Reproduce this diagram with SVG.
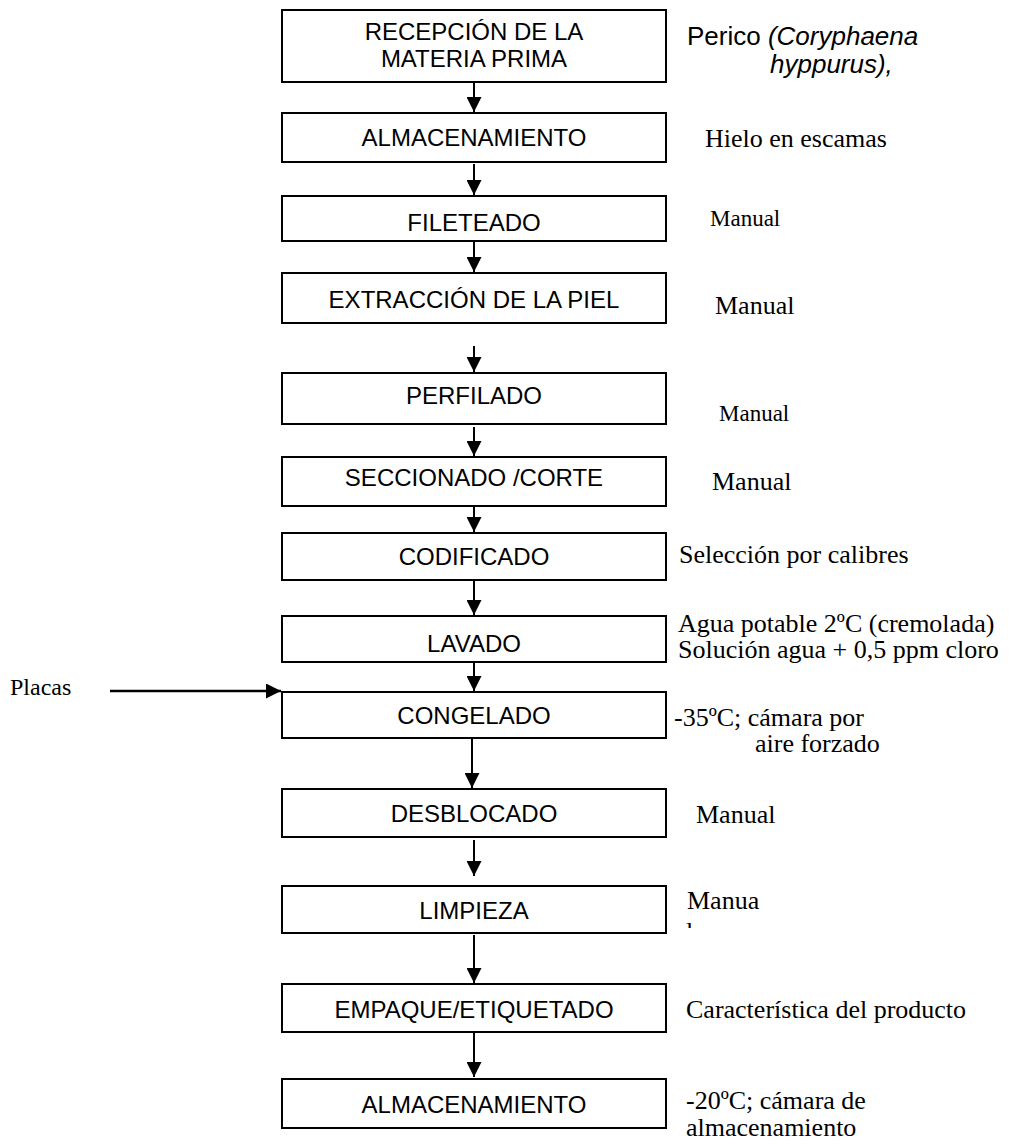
<svg xmlns="http://www.w3.org/2000/svg" width="1014" height="1144" viewBox="0 0 1014 1144">
<style>
.box rect{fill:#fff;stroke:#000;stroke-width:2}
.box text{font-family:"Liberation Sans",Arial,sans-serif;font-size:24px;text-anchor:middle;fill:#000}
.note{font-family:"Liberation Serif","Times New Roman",serif;font-size:26px;fill:#000}
.small{font-size:23px}
.sans{font-family:"Liberation Sans",Arial,sans-serif;font-size:26px;fill:#000}
.conn line{stroke:#000;stroke-width:2;marker-end:url(#ah)}
</style>
<defs>
<marker id="ah" markerUnits="userSpaceOnUse" markerWidth="15" markerHeight="15" refX="15" refY="7.5" orient="auto">
<path d="M0,0 L15,7.5 L0,15 z" fill="#000"/>
</marker>
<clipPath id="cl"><rect x="670" y="900" width="60" height="28"/></clipPath>
</defs>
<rect width="1014" height="1144" fill="#fff"/>
<g class="conn">
<line x1="474" y1="82" x2="474" y2="112"/>
<line x1="474" y1="164" x2="474" y2="195"/>
<line x1="474" y1="241" x2="474" y2="272"/>
<line x1="474" y1="346" x2="474" y2="372"/>
<line x1="474" y1="427" x2="474" y2="456"/>
<line x1="474" y1="500" x2="474" y2="532"/>
<line x1="474" y1="580" x2="474" y2="615"/>
<line x1="474" y1="662" x2="474" y2="691"/>
<line x1="472" y1="738" x2="472" y2="788"/>
<line x1="474" y1="840" x2="474" y2="876"/>
<line x1="474" y1="935" x2="474" y2="983"/>
<line x1="474" y1="1032" x2="474" y2="1077"/>
<line x1="110" y1="691" x2="281" y2="691" style="stroke-width:2.5"/>
</g>
<g id="n1" class="box"><rect x="282" y="10" width="384" height="72"/><text x="474" y="40">RECEPCIÓN DE LA</text><text x="474" y="67">MATERIA PRIMA</text></g>
<g id="n2" class="box"><rect x="282" y="113" width="384" height="49"/><text x="474" y="146">ALMACENAMIENTO</text></g>
<g id="n3" class="box"><rect x="282" y="196" width="384" height="45"/><text x="474" y="231">FILETEADO</text></g>
<g id="n4" class="box"><rect x="282" y="273" width="384" height="50"/><text x="474" y="308">EXTRACCIÓN DE LA PIEL</text></g>
<g id="n5" class="box"><rect x="282" y="373" width="384" height="51"/><text x="474" y="404">PERFILADO</text></g>
<g id="n6" class="box"><rect x="282" y="457" width="384" height="49"/><text x="474" y="486">SECCIONADO /CORTE</text></g>
<g id="n7" class="box"><rect x="282" y="533" width="384" height="47"/><text x="474" y="565">CODIFICADO</text></g>
<g id="n8" class="box"><rect x="282" y="616" width="384" height="46"/><text x="474" y="652">LAVADO</text></g>
<g id="n9" class="box"><rect x="282" y="692" width="384" height="46"/><text x="474" y="724">CONGELADO</text></g>
<g id="n10" class="box"><rect x="282" y="789" width="384" height="48"/><text x="474" y="822">DESBLOCADO</text></g>
<g id="n11" class="box"><rect x="282" y="886" width="384" height="47"/><text x="474" y="919">LIMPIEZA</text></g>
<g id="n12" class="box"><rect x="282" y="984" width="384" height="48"/><text x="474" y="1018">EMPAQUE/ETIQUETADO</text></g>
<g id="n13" class="box"><rect x="282" y="1079" width="384" height="49"/><text x="474" y="1113">ALMACENAMIENTO</text></g>
<g id="notes">
<text class="sans" x="687" y="45">Perico <tspan font-style="italic">(Coryphaena</tspan></text>
<text class="sans" x="770" y="73" font-style="italic">hyppurus),</text>
<text class="note" x="705" y="147">Hielo en escamas</text>
<text class="note small" x="710" y="226">Manual</text>
<text class="note" x="715" y="314">Manual</text>
<text class="note small" x="719" y="421">Manual</text>
<text class="note" x="712" y="490">Manual</text>
<text class="note" x="679" y="563">Selección por calibres</text>
<text class="note" x="678" y="632">Agua potable 2ºC (cremolada)</text>
<text class="note" x="678" y="658">Solución agua + 0,5 ppm cloro</text>
<text class="note" x="674" y="726">-35ºC; cámara por</text>
<text class="note" x="755" y="752">aire forzado</text>
<text class="note" x="696" y="823">Manual</text>
<text class="note" x="687" y="909">Manua</text>
<text class="note" x="686" y="940" clip-path="url(#cl)">l</text>
<text class="note" x="686" y="1018">Característica del producto</text>
<text class="note" x="686" y="1109">-20ºC; cámara de</text>
<text class="note" x="686" y="1136">almacenamiento</text>
<text class="note" x="10" y="695" style="font-size:24px">Placas</text>
</g>
</svg>
